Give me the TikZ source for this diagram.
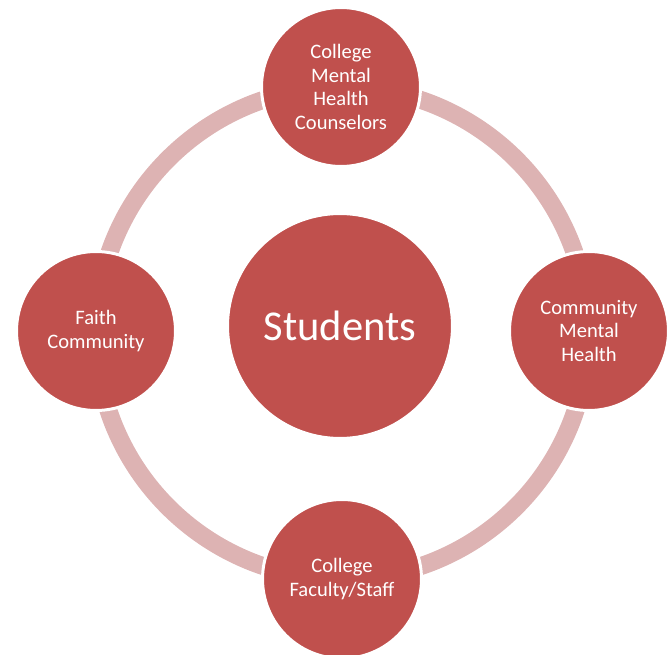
\documentclass[tikz,border=0pt]{standalone}
\usepackage{fontspec}
\setmainfont{Carlito}
\usepackage{tikz}
\usetikzlibrary{positioning}
\usepackage{xcolor}
\definecolor{discred}{RGB}{192,80,77}
\definecolor{ringpink}{RGB}{221,179,179}

\begin{document}
\begin{tikzpicture}[x=0.02cm, y=-0.02cm,
    group/.style={circle, fill=discred, draw=white, line width=1.7pt,
        minimum size=3.18cm, inner sep=0pt, align=center, text=white,
        font=\fontsize{11.7}{13.4}\selectfont},
    hub/.style={group, minimum size=4.5cm, font=\fontsize{24.2}{29}\selectfont}]
    \useasboundingbox (0,0) rectangle (669,655);
    % ring behind the circles
    \draw[ringpink, line width=10.2pt] (342,333) circle (246);
    \node[hub] (students) at (340,326) {Students};
    \node[group] (counselors) at (341,87) {College\\Mental\\Health\\Counselors};
    \node[group] (community) at (589,331) {Community\\Mental\\Health};
    \node[group] (faculty) at (342,579) {College\\Faculty/Staff};
    \node[group] (faith) at (96,331) {Faith\\Community};
\end{tikzpicture}
\end{document}
